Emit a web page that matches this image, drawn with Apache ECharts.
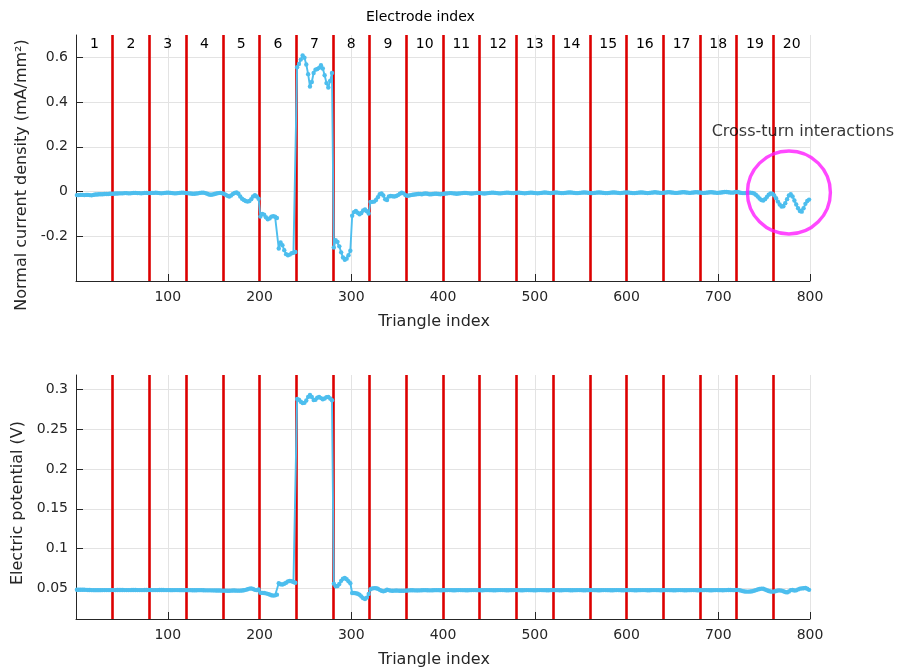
<!DOCTYPE html>
<html><head><meta charset="utf-8">
<script src="https://cdn.jsdelivr.net/npm/echarts@6/dist/echarts.min.js"></script>
<style>html,body{margin:0;padding:0;background:#fff}#chart{width:897px;height:672px}</style>
</head><body><div id="chart"></div><script>
// ---- Data ----
const electrodeLabels = ['1','2','3','4','5','6','7','8','9','10','11','12','13','14','15','16','17','18','19','20'];
const electrodeCenters = [20,60,100,140,180,220,260,300,340,380,420,460,500,540,580,620,660,700,740,780];
const electrodeBoundaries = [40,80,120,160,200,240,280,320,360,400,440,480,520,560,600,640,680,720,760];
const xTicks = [100,200,300,400,500,600,700,800];
const currentTicks = [-0.2,0,0.2,0.4,0.6];
const potentialTicks = [0.05,0.1,0.15,0.2,0.25,0.3];
const annotationPoint = [777, -0.004];
const annotationText = 'Cross-turn interactions';

// Normal current density (mA/mm^2), sampled every 2 triangles (one row per electrode)
const currentDensity = [
-0.016,-0.016,-0.015,-0.015,-0.016,-0.015,-0.015,-0.016,-0.017,-0.015,-0.013,-0.013,-0.012,-0.012,-0.012,-0.011,-0.011,-0.011,-0.010,-0.010,
-0.010,-0.009,-0.009,-0.008,-0.008,-0.008,-0.007,-0.007,-0.008,-0.008,-0.007,-0.006,-0.006,-0.007,-0.007,-0.008,-0.007,-0.006,-0.006,-0.007,
-0.007,-0.006,-0.006,-0.005,-0.006,-0.007,-0.008,-0.007,-0.006,-0.005,-0.005,-0.006,-0.007,-0.008,-0.008,-0.007,-0.006,-0.005,-0.005,-0.006,
-0.007,-0.008,-0.009,-0.010,-0.010,-0.009,-0.008,-0.006,-0.005,-0.005,-0.007,-0.010,-0.013,-0.014,-0.013,-0.011,-0.009,-0.007,-0.006,-0.007,
-0.010,-0.014,-0.019,-0.022,-0.018,-0.011,-0.006,-0.004,-0.010,-0.022,-0.032,-0.038,-0.042,-0.045,-0.042,-0.034,-0.022,-0.016,-0.022,-0.032,
-0.112,-0.100,-0.103,-0.115,-0.124,-0.120,-0.112,-0.110,-0.113,-0.118,-0.255,-0.228,-0.240,-0.262,-0.280,-0.285,-0.282,-0.276,-0.274,-0.270,
0.556,0.570,0.590,0.608,0.598,0.568,0.525,0.470,0.490,0.530,0.545,0.548,0.553,0.565,0.550,0.520,0.485,0.465,0.495,0.530,
-0.250,-0.218,-0.225,-0.245,-0.272,-0.295,-0.305,-0.300,-0.285,-0.265,-0.108,-0.092,-0.087,-0.095,-0.102,-0.096,-0.085,-0.080,-0.088,-0.098,
-0.046,-0.046,-0.045,-0.038,-0.025,-0.012,-0.008,-0.018,-0.035,-0.038,-0.022,-0.020,-0.021,-0.022,-0.020,-0.016,-0.010,-0.005,-0.008,-0.016,
-0.019,-0.018,-0.016,-0.014,-0.013,-0.012,-0.011,-0.011,-0.012,-0.010,-0.009,-0.010,-0.012,-0.012,-0.011,-0.010,-0.010,-0.011,-0.012,-0.011,
-0.010,-0.009,-0.008,-0.007,-0.007,-0.008,-0.009,-0.010,-0.009,-0.008,-0.007,-0.006,-0.006,-0.007,-0.008,-0.009,-0.008,-0.007,-0.006,-0.006,
-0.007,-0.008,-0.009,-0.008,-0.007,-0.006,-0.005,-0.005,-0.006,-0.007,-0.008,-0.008,-0.007,-0.006,-0.005,-0.005,-0.006,-0.007,-0.007,-0.006,
-0.005,-0.005,-0.006,-0.007,-0.008,-0.007,-0.006,-0.005,-0.005,-0.006,-0.007,-0.008,-0.007,-0.006,-0.005,-0.004,-0.005,-0.006,-0.007,-0.006,
-0.005,-0.004,-0.005,-0.006,-0.007,-0.007,-0.006,-0.005,-0.004,-0.004,-0.005,-0.006,-0.007,-0.007,-0.006,-0.005,-0.004,-0.004,-0.005,-0.006,
-0.007,-0.007,-0.006,-0.005,-0.004,-0.004,-0.005,-0.006,-0.007,-0.007,-0.006,-0.005,-0.004,-0.004,-0.005,-0.006,-0.007,-0.006,-0.005,-0.004,
-0.004,-0.005,-0.006,-0.007,-0.007,-0.006,-0.005,-0.004,-0.004,-0.005,-0.006,-0.007,-0.006,-0.005,-0.004,-0.003,-0.004,-0.005,-0.006,-0.006,
-0.005,-0.004,-0.003,-0.003,-0.004,-0.005,-0.006,-0.006,-0.005,-0.004,-0.003,-0.003,-0.004,-0.005,-0.006,-0.005,-0.004,-0.003,-0.003,-0.004,
-0.005,-0.006,-0.006,-0.005,-0.004,-0.003,-0.003,-0.004,-0.005,-0.006,-0.005,-0.004,-0.003,-0.002,-0.002,-0.003,-0.004,-0.005,-0.004,-0.002,
-0.002,-0.004,-0.006,-0.007,-0.007,-0.006,-0.005,-0.005,-0.006,-0.009,-0.014,-0.022,-0.031,-0.038,-0.040,-0.034,-0.024,-0.014,-0.009,-0.010,
-0.018,-0.030,-0.045,-0.058,-0.067,-0.066,-0.052,-0.034,-0.018,-0.012,-0.022,-0.040,-0.058,-0.075,-0.087,-0.090,-0.075,-0.055,-0.042,-0.036
];

// Electric potential (V), sampled every 2 triangles (one row per electrode)
const electricPotential = [
0.0484,0.0484,0.0484,0.0483,0.0483,0.0482,0.0481,0.0480,0.0479,0.0478,0.0478,0.0478,0.0478,0.0478,0.0479,0.0479,0.0479,0.0479,0.0479,0.0479,
0.0479,0.0479,0.0480,0.0480,0.0480,0.0480,0.0479,0.0479,0.0479,0.0479,0.0480,0.0480,0.0480,0.0479,0.0479,0.0479,0.0479,0.0480,0.0480,0.0480,
0.0480,0.0479,0.0479,0.0479,0.0479,0.0480,0.0480,0.0480,0.0479,0.0479,0.0479,0.0478,0.0478,0.0479,0.0479,0.0479,0.0478,0.0478,0.0478,0.0478,
0.0478,0.0478,0.0478,0.0477,0.0477,0.0477,0.0478,0.0478,0.0478,0.0477,0.0476,0.0476,0.0476,0.0476,0.0475,0.0475,0.0474,0.0474,0.0473,0.0472,
0.0472,0.0472,0.0471,0.0471,0.0472,0.0473,0.0473,0.0472,0.0472,0.0472,0.0474,0.0477,0.0482,0.0490,0.0497,0.0500,0.0493,0.0482,0.0478,0.0488,
0.0445,0.0444,0.0442,0.0438,0.0432,0.0424,0.0415,0.0410,0.0413,0.0422,0.0566,0.0552,0.0550,0.0558,0.0572,0.0588,0.0595,0.0590,0.0580,0.0572,
0.2880,0.2870,0.2845,0.2828,0.2830,0.2860,0.2905,0.2928,0.2905,0.2865,0.2870,0.2895,0.2905,0.2890,0.2875,0.2885,0.2902,0.2905,0.2885,0.2862,
0.0560,0.0528,0.0530,0.0555,0.0595,0.0622,0.0630,0.0615,0.0590,0.0565,0.0443,0.0442,0.0440,0.0433,0.0420,0.0400,0.0378,0.0368,0.0385,0.0430,
0.0490,0.0500,0.0504,0.0502,0.0495,0.0482,0.0470,0.0463,0.0470,0.0483,0.0478,0.0472,0.0470,0.0472,0.0474,0.0472,0.0470,0.0470,0.0471,0.0472,
0.0474,0.0476,0.0477,0.0477,0.0476,0.0475,0.0475,0.0476,0.0477,0.0478,0.0478,0.0477,0.0476,0.0476,0.0477,0.0478,0.0478,0.0478,0.0477,0.0477,
0.0478,0.0478,0.0479,0.0479,0.0478,0.0477,0.0477,0.0478,0.0479,0.0479,0.0478,0.0478,0.0477,0.0477,0.0478,0.0479,0.0479,0.0479,0.0478,0.0478,
0.0477,0.0477,0.0478,0.0479,0.0479,0.0478,0.0478,0.0477,0.0477,0.0478,0.0479,0.0479,0.0479,0.0478,0.0477,0.0477,0.0478,0.0478,0.0479,0.0479,
0.0478,0.0478,0.0477,0.0477,0.0478,0.0479,0.0479,0.0478,0.0478,0.0477,0.0477,0.0478,0.0479,0.0479,0.0478,0.0478,0.0477,0.0477,0.0478,0.0479,
0.0479,0.0478,0.0478,0.0477,0.0477,0.0478,0.0479,0.0479,0.0478,0.0477,0.0477,0.0478,0.0478,0.0479,0.0479,0.0478,0.0477,0.0477,0.0478,0.0478,
0.0479,0.0479,0.0478,0.0478,0.0477,0.0477,0.0478,0.0479,0.0479,0.0478,0.0478,0.0477,0.0477,0.0478,0.0479,0.0479,0.0478,0.0477,0.0477,0.0478,
0.0478,0.0479,0.0479,0.0478,0.0477,0.0477,0.0478,0.0478,0.0479,0.0479,0.0478,0.0477,0.0477,0.0478,0.0479,0.0479,0.0478,0.0478,0.0477,0.0477,
0.0478,0.0479,0.0479,0.0478,0.0478,0.0477,0.0477,0.0478,0.0479,0.0479,0.0478,0.0477,0.0477,0.0478,0.0478,0.0479,0.0479,0.0478,0.0477,0.0477,
0.0478,0.0478,0.0479,0.0479,0.0478,0.0477,0.0477,0.0478,0.0479,0.0479,0.0478,0.0478,0.0477,0.0478,0.0479,0.0480,0.0480,0.0479,0.0478,0.0480,
0.0482,0.0478,0.0472,0.0466,0.0462,0.0460,0.0460,0.0462,0.0465,0.0470,0.0478,0.0486,0.0493,0.0497,0.0495,0.0487,0.0477,0.0468,0.0462,0.0460,
0.0462,0.0468,0.0474,0.0476,0.0472,0.0464,0.0455,0.0450,0.0462,0.0478,0.0480,0.0474,0.0476,0.0488,0.0497,0.0500,0.0503,0.0505,0.0496,0.0482
];

// Triangle index of each sample (every second triangle: 1, 3, 5, ...)
const triangleIndex = currentDensity.map((_, i) => 2 * i + 1);

// ---- Styling ----
const FONT = 'DejaVu Sans';
const TXT = '#262626';
const GRIDC = '#e3e3e3';
const BLUE = '#4DBEEE';
const RED = '#dc0000';

function xAxisCfg(g) {
  return {
    type: 'value', gridIndex: g, min: 0, max: 800, position: 'bottom',
    name: 'Triangle index', nameLocation: 'middle', nameGap: 33,
    nameTextStyle: { fontFamily: FONT, fontSize: 16, color: TXT, padding: [0, 18, 0, 0] },
    axisLine: { show: true, onZero: false, lineStyle: { color: TXT, width: 1 } },
    axisTick: { show: true, inside: true, length: 7, customValues: xTicks, lineStyle: { color: TXT } },
    axisLabel: { customValues: xTicks, fontFamily: FONT, fontSize: 14, color: TXT, margin: 9 },
    splitLine: { show: true, lineStyle: { color: GRIDC, width: 1 } }
  };
}
function yAxisCfg(g, name, min, max, ticks, gap, shift) {
  return {
    type: 'value', gridIndex: g, min: min, max: max, position: 'left',
    name: name, nameLocation: 'middle', nameGap: gap, nameRotate: 90,
    nameTextStyle: { fontFamily: FONT, fontSize: 16, color: TXT, padding: [0, shift, 0, 0] },
    axisLine: { show: true, onZero: false, lineStyle: { color: TXT, width: 1 } },
    axisTick: { show: true, inside: true, length: 7, customValues: ticks, lineStyle: { color: TXT } },
    axisLabel: { customValues: ticks, fontFamily: FONT, fontSize: 14, color: TXT, margin: 8 },
    splitLine: { show: true, lineStyle: { color: GRIDC, width: 1 } }
  };
}
function boundarySeries(g) {
  return {
    type: 'line', xAxisIndex: g === 0 ? 0 : 2, yAxisIndex: g, data: [], z: 1,
    markLine: {
      silent: true, symbol: ['none', 'none'], animation: false, z: 1,
      label: { show: false },
      lineStyle: { color: RED, width: 2.6, type: 'solid', opacity: 1 },
      emphasis: { disabled: true },
      data: electrodeBoundaries.map(v => ({ xAxis: v }))
    }
  };
}
function dataSeries(g, values) {
  return {
    type: 'line', xAxisIndex: g === 0 ? 0 : 2, yAxisIndex: g, z: 10,
    data: triangleIndex.map((x, i) => [x, values[i]]),
    symbol: 'circle', symbolSize: 4.4, showAllSymbol: true,
    lineStyle: { color: BLUE, width: 1.9 },
    itemStyle: { color: BLUE, borderWidth: 0 },
    emphasis: { disabled: true }, silent: true, animation: false
  };
}

const chart = echarts.init(document.getElementById('chart'), null, { renderer: 'canvas' });
chart.setOption({
  backgroundColor: '#ffffff',
  animation: false,
  textStyle: { fontFamily: FONT },
  title: {
    text: 'Electrode index', left: 361, top: 5,
    textStyle: { fontFamily: FONT, fontSize: 14, fontWeight: 'normal', color: '#000' }
  },
  grid: [
    { left: 76, top: 35, width: 734, height: 246 },
    { left: 76, top: 375, width: 734, height: 244 }
  ],
  xAxis: [
    xAxisCfg(0),
    {
      type: 'value', gridIndex: 0, min: 0, max: 800, position: 'top',
      axisLine: { show: false }, axisTick: { show: false }, splitLine: { show: false },
      axisLabel: {
        inside: true, margin: 2, customValues: electrodeCenters,
        fontFamily: FONT, fontSize: 14, color: '#000',
        formatter: v => { const k = electrodeCenters.indexOf(Math.round(v)); return k >= 0 ? electrodeLabels[k] : ''; }
      }
    },
    xAxisCfg(1)
  ],
  yAxis: [
    yAxisCfg(0, 'Normal current density (mA/mm²)', -0.4, 0.7, currentTicks, 40, 34),
    yAxisCfg(1, 'Electric potential (V)', 0.0116, 0.318, potentialTicks, 45, 12)
  ],
  series: [
    boundarySeries(0),
    dataSeries(0, currentDensity),
    {
      type: 'scatter', xAxisIndex: 0, yAxisIndex: 0, z: 12, clip: false, silent: true,
      data: [annotationPoint],
      symbol: 'circle', symbolSize: 83,
      itemStyle: { color: 'rgba(0,0,0,0)', borderColor: '#ff1aff', borderWidth: 3.4 },
      label: {
        show: true, position: 'top', distance: 9, offset: [14, 0],
        formatter: annotationText, fontFamily: FONT, fontSize: 16, color: '#000'
      }
    },
    boundarySeries(1),
    dataSeries(1, electricPotential)
  ]
});
</script></body></html>
